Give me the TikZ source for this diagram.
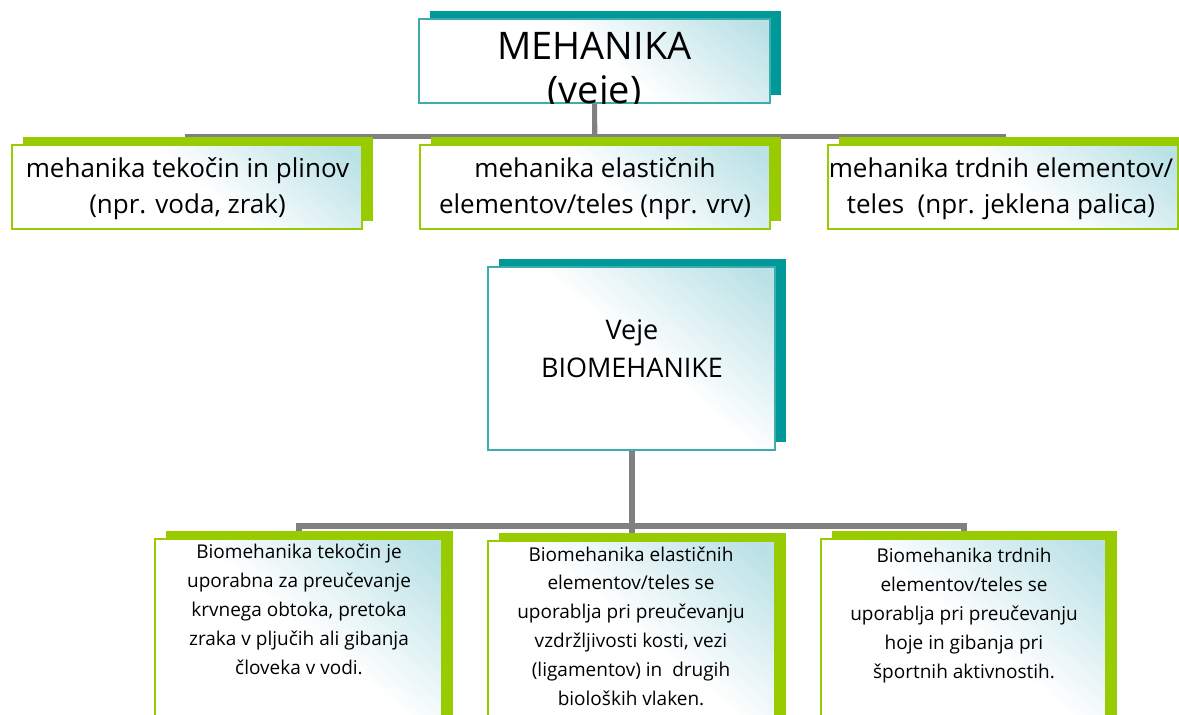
\documentclass[tikz,border=0pt]{standalone}
\usepackage{fontspec}
\setmainfont{Open Sans}
\usetikzlibrary{shadows}

\definecolor{tealdark}{RGB}{0,153,153}
\definecolor{tealline}{RGB}{60,172,172}
\definecolor{limegreen}{RGB}{153,204,0}
\definecolor{linkgray}{RGB}{128,128,128}
\definecolor{paleaqua}{RGB}{186,225,230}

% white over most of the panel, pale aqua toward the upper right corner
\pgfdeclareverticalshading{panelwash}{100bp}{color(0bp)=(white); color(52bp)=(white); color(82bp)=(paleaqua); color(100bp)=(paleaqua)}

\pgfdeclarelayer{links}
\pgfsetlayers{links,main}

\tikzset{
  panel/.style={rectangle, inner sep=0pt, shade, shading=panelwash, shading angle=-40, line width=1.5pt},
  tealpanel/.style={panel, draw=tealline,
    general shadow={fill=tealdark, shadow xshift=11pt, shadow yshift=8pt}},
  greenpanel/.style={panel, draw=limegreen,
    general shadow={fill=limegreen, shadow xshift=11pt, shadow yshift=8pt}},
  link/.style={draw=linkgray, line width=5pt},
  biglink/.style={draw=linkgray, line width=6pt},
  % captions are placed by the baseline of their last line
  caption/.style={align=center, inner sep=0pt, anchor=base, text=black},
  headfont/.style={font=\fontsize{38}{44}\selectfont},
  branchfont/.style={font=\fontsize{26}{36}\selectfont},
  centrefont/.style={font=\fontsize{27}{38}\selectfont},
  notefont/.style={font=\fontsize{19}{28.8}\selectfont}
}

\begin{document}
\begin{tikzpicture}[x=1pt,y=-1pt]
\useasboundingbox (0,0) rectangle (1179,715);
\clip (0,0) rectangle (1179,715);

% top level
\node[tealpanel, minimum width=351pt, minimum height=84pt] (mech) at (594.5,61) {};
\node[greenpanel, minimum width=350pt, minimum height=84pt] (fluid) at (187,187) {};
\node[greenpanel, minimum width=350pt, minimum height=84pt] (elastic) at (595,187) {};
\node[greenpanel, minimum width=350pt, minimum height=84pt] (solid) at (1003,187) {};

% biomechanics level
\node[tealpanel, minimum width=287pt, minimum height=183pt] (bio) at (631.5,358.5) {};
\node[greenpanel, minimum width=287pt, minimum height=200pt] (bfluid) at (298.5,639) {};
\node[greenpanel, minimum width=287pt, minimum height=200pt] (belastic) at (631.5,641) {};
\node[greenpanel, minimum width=285pt, minimum height=200pt] (bsolid) at (963.5,639) {};

% connectors behind the panels
\begin{pgfonlayer}{links}
  \draw[link] (mech.south) -- ++(0,33) -| (fluid.north);
  \draw[link] (mech.south) -- ++(0,33) -| (solid.north);
  \draw[link] (mech.south) -- (elastic.north);
  \draw[biglink] (bio.south) -- ++(0,75) -| (bfluid.north);
  \draw[biglink] (bio.south) -- ++(0,75) -| (bsolid.north);
  \draw[biglink] (bio.south) -- (belastic.north);
\end{pgfonlayer}

% titles
\begin{scope}
  \clip (mech.north west) rectangle (mech.south east);
  \node[caption, headfont] (mechtxt) at (594.5,103) {MEHANIKA\\(veje)};
\end{scope}

\node[caption, branchfont] (fluidtxt) at (187.5,213) {mehanika tekočin in plinov\\(npr. voda, zrak)};
\node[caption, branchfont] (elastictxt) at (595,213) {mehanika elastičnih\\elementov/teles (npr. vrv)};
\node[caption, branchfont] (solidtxt) at (1001,213) {mehanika trdnih elementov/\\teles~ (npr. jeklena palica)};

\node[caption, centrefont] (biotxt) at (632,377) {Veje\\BIOMEHANIKE};

\node[caption, notefont] (bfluidtxt) at (299,674) {Biomehanika tekočin je\\uporabna za preučevanje\\krvnega obtoka, pretoka\\zraka v pljučih ali gibanja\\človeka v vodi.};
\node[caption, notefont] (belastictxt) at (631,705) {Biomehanika elastičnih\\elementov/teles se\\uporablja pri preučevanju\\vzdržljivosti kosti, vezi\\(ligamentov) in~ drugih\\bioloških vlaken.};
\node[caption, notefont] (bsolidtxt) at (964,678) {Biomehanika trdnih\\elementov/teles se\\uporablja pri preučevanju\\hoje in gibanja pri\\športnih aktivnostih.};
\end{tikzpicture}
\end{document}
